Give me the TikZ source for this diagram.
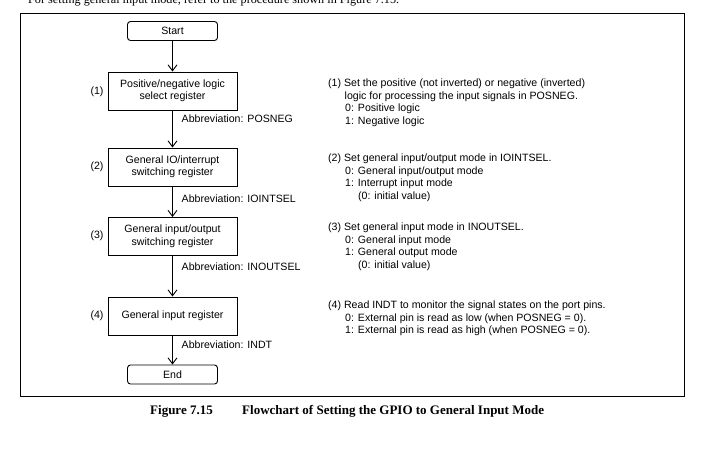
\documentclass[tikz,border=0pt]{standalone}
\usepackage{fontspec}
\setmainfont{Liberation Sans}
\newfontfamily\timesfont{Liberation Serif}
\usetikzlibrary{arrows.meta}
\begin{document}
\begin{tikzpicture}[x=1pt,y=-1pt,
  every node/.style={font=\fontsize{10.6}{12.5}\selectfont},
  reg/.style={draw,line width=0.9pt,minimum width=129pt,minimum height=38pt,align=center,inner sep=1pt},
  term/.style={draw,line width=0.9pt,rounded corners=3pt,minimum width=90pt,minimum height=19pt,inner sep=1pt},
  arr/.style={line width=0.9pt,-{Straight Barb[length=6pt,width=9pt,line width=0.9pt]}},
  lbl/.style={anchor=west,inner sep=0pt},
  num/.style={inner sep=0pt},
  desc/.style={anchor=north west,align=left,inner sep=0pt},
  capt/.style={anchor=base west,inner sep=0pt,font=\timesfont\bfseries\fontsize{13}{15}\selectfont}]
\useasboundingbox (0,0) rectangle (701,461);
\fill[white] (0,0) rectangle (701,461);
\node[anchor=base west,inner sep=0pt,font=\timesfont\fontsize{12.2}{14}\selectfont] (intro) at (28,3.5) {For setting general input mode, refer to the procedure shown in Figure 7.15.};
\draw[line width=0.9pt] (20.5,13) rectangle (684,396);
\node[term] (start) at (172.5,31) {Start};
\node[reg] (r1) at (172.5,91) {Positive/negative logic\\select register};
\node[reg] (r2) at (172.5,167) {General IO/interrupt\\switching register};
\node[reg] (r3) at (172.5,236.5) {General input/output\\switching register};
\node[reg] (r4) at (172.5,316) {General input register};
\node[term] (end) at (172.5,374.5) {End};
\node[num] (n1) at (97,92) {(1)};
\node[num] (n2) at (97,167) {(2)};
\node[num] (n3) at (97,236) {(3)};
\node[num] (n4) at (97,316) {(4)};
\draw[arr] (start) -- (r1);
\draw[arr] (r1) -- (r2);
\draw[arr] (r2) -- (r3);
\draw[arr] (r3) -- (r4);
\draw[arr] (r4) -- (end);
\node[lbl] (a1) at (181.5,119) {Abbreviation: POSNEG};
\node[lbl] (a2) at (181.5,199) {Abbreviation: IOINTSEL};
\node[lbl] (a3) at (181.5,267) {Abbreviation: INOUTSEL};
\node[lbl] (a4) at (181.5,345) {Abbreviation: INDT};
\node[desc] (d1) at (328,79) {(1) Set the positive (not inverted) or negative (inverted)\\\hspace*{16.5pt}logic for processing the input signals in POSNEG.\\\hspace*{17pt}0: Positive logic\\\hspace*{17pt}1: Negative logic};
\node[desc] (d2) at (328,154) {(2) Set general input/output mode in IOINTSEL.\\\hspace*{17pt}0: General input/output mode\\\hspace*{17pt}1: Interrupt input mode\\\hspace*{30pt}(0: initial value)};
\node[desc] (d3) at (328,223) {(3) Set general input mode in INOUTSEL.\\\hspace*{17pt}0: General input mode\\\hspace*{17pt}1: General output mode\\\hspace*{30pt}(0: initial value)};
\node[desc] (d4) at (328,301) {(4) Read INDT to monitor the signal states on the port pins.\\\hspace*{17pt}0: External pin is read as low (when POSNEG = 0).\\\hspace*{17pt}1: External pin is read as high (when POSNEG = 0).};
\node[capt] (fig) at (150,414) {Figure 7.15};
\node[capt] (cap) at (242,414) {Flowchart of Setting the GPIO to General Input Mode};
\end{tikzpicture}
\end{document}
